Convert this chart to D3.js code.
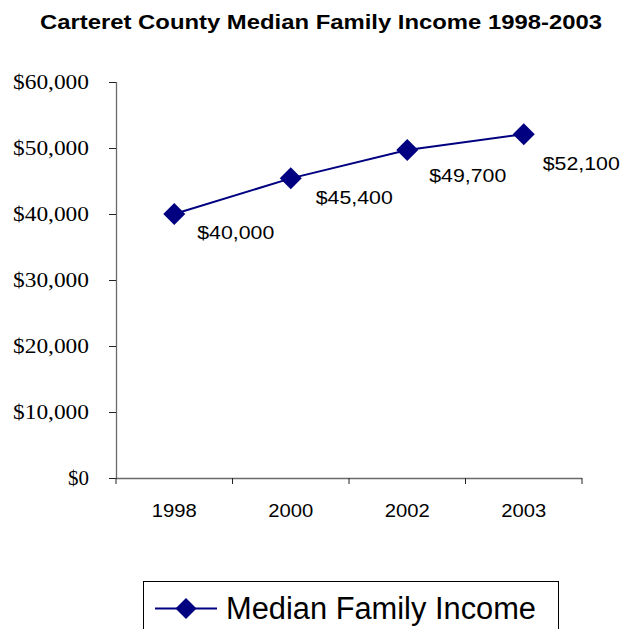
<!DOCTYPE html>
<html>
<head>
<meta charset="utf-8">
<script src="https://cdn.jsdelivr.net/npm/d3@7"></script>
<style>
  html, body { margin: 0; padding: 0; background: #fff; }
  svg { display: block; }
</style>
</head>
<body>
<svg id="chart" width="623" height="629"></svg>
<script>
// Median family income, Carteret County
const years = ["1998", "2000", "2002", "2003"];
const incomes = [40000, 45400, 49700, 52100];
const valueLabels = ["$40,000", "$45,400", "$49,700", "$52,100"];
const yTicks = [0, 10000, 20000, 30000, 40000, 50000, 60000];
const yTickLabels = ["$0", "$10,000", "$20,000", "$30,000", "$40,000", "$50,000", "$60,000"];
const seriesName = "Median Family Income";
const chartTitle = "Carteret County Median Family Income 1998-2003";

// per-label nudges (dx, dy) relative to each marker
const labelNudge = [[23, 25], [25, 26], [22, 32], [19, 36]];

const navy = "#000080";
const axisColor = "#6a6a6a";
const svg = d3.select("#chart");

const plot = { left: 116, right: 582, top: 82, bottom: 478 };

const x = d3.scaleBand().domain(years).range([plot.left, plot.right]).padding(0);
const y = d3.scaleLinear().domain([0, 60000]).range([plot.bottom, plot.top]);

// title
svg.append("text")
  .attr("x", 321).attr("y", 29)
  .attr("text-anchor", "middle")
  .attr("font-family", "Liberation Sans, Arial, sans-serif")
  .attr("font-weight", "bold")
  .attr("font-size", 20)
  .attr("textLength", 562)
  .attr("lengthAdjust", "spacingAndGlyphs")
  .text(chartTitle);

// y axis
const yAxis = d3.axisLeft(y)
  .tickValues(yTicks)
  .tickSize(7)
  .tickPadding(0)
  .tickFormat((d, i) => yTickLabels[i]);
const gy = svg.append("g")
  .attr("transform", `translate(${plot.left},0)`)
  .call(yAxis);
gy.select(".domain").attr("stroke", axisColor).attr("stroke-width", 1.3)
  .attr("d", `M0.5,${plot.top}V${plot.bottom}`);
gy.selectAll(".tick line").attr("stroke", "#222");
gy.selectAll(".tick text")
  .attr("x", -27)
  .attr("dy", "0.34em")
  .attr("fill", "#000")
  .attr("font-family", "Liberation Serif, Times New Roman, serif")
  .attr("font-size", 20)
  .attr("textLength", (d, i) => yTickLabels[i].length > 2 ? 76 : 21)
  .attr("lengthAdjust", "spacingAndGlyphs");

// x axis with ticks on category boundaries
const gx = svg.append("g")
  .attr("transform", `translate(0,${plot.bottom})`);
gx.append("path")
  .attr("d", `M${plot.left},0.5H${plot.right}`)
  .attr("stroke", axisColor).attr("stroke-width", 1.3).attr("fill", "none");
const boundaries = years.map(d => x(d)).concat([x(years[years.length - 1]) + x.bandwidth()]);
gx.selectAll("line.bound")
  .data(boundaries)
  .join("line")
  .attr("class", "bound")
  .attr("x1", d => d).attr("x2", d => d)
  .attr("y1", 0).attr("y2", 6)
  .attr("stroke", "#222");
gx.selectAll("text.cat")
  .data(years)
  .join("text")
  .attr("class", "cat")
  .attr("x", d => x(d) + x.bandwidth() / 2)
  .attr("y", 39)
  .attr("text-anchor", "middle")
  .attr("font-family", "Liberation Sans, Arial, sans-serif")
  .attr("font-size", 19)
  .attr("textLength", 45)
  .attr("lengthAdjust", "spacingAndGlyphs")
  .text(d => d);

// series line
const cx = d => x(d) + x.bandwidth() / 2;
const line = d3.line()
  .x((d, i) => cx(years[i]))
  .y(d => y(d));
svg.append("path")
  .datum(incomes)
  .attr("d", line)
  .attr("fill", "none")
  .attr("stroke", navy)
  .attr("stroke-width", 2);

// diamond markers
const diamond = r => `M0,${-r}L${r},0L0,${r}L${-r},0Z`;
svg.selectAll("path.marker")
  .data(incomes)
  .join("path")
  .attr("class", "marker")
  .attr("transform", (d, i) => `translate(${cx(years[i])},${y(d)})`)
  .attr("d", diamond(11))
  .attr("fill", navy);

// value labels
svg.selectAll("text.val")
  .data(incomes)
  .join("text")
  .attr("class", "val")
  .attr("x", (d, i) => cx(years[i]) + labelNudge[i][0])
  .attr("y", (d, i) => y(d) + labelNudge[i][1])
  .attr("font-family", "Liberation Sans, Arial, sans-serif")
  .attr("font-size", 18.5)
  .attr("textLength", 77)
  .attr("lengthAdjust", "spacingAndGlyphs")
  .text((d, i) => valueLabels[i]);

// legend
const lg = svg.append("g");
lg.append("rect")
  .attr("x", 143.5).attr("y", 581.5)
  .attr("width", 415).attr("height", 60)
  .attr("fill", "#fff")
  .attr("stroke", "#000").attr("stroke-width", 1);
lg.append("line")
  .attr("x1", 155).attr("x2", 217)
  .attr("y1", 608.5).attr("y2", 608.5)
  .attr("stroke", navy).attr("stroke-width", 2);
lg.append("path")
  .attr("transform", "translate(186,608.5)")
  .attr("d", diamond(10.5))
  .attr("fill", navy);
lg.append("text")
  .attr("x", 226).attr("y", 619)
  .attr("font-family", "Liberation Sans, Arial, sans-serif")
  .attr("font-size", 31)
  .attr("textLength", 310)
  .attr("lengthAdjust", "spacingAndGlyphs")
  .text(seriesName);
</script>
</body>
</html>
